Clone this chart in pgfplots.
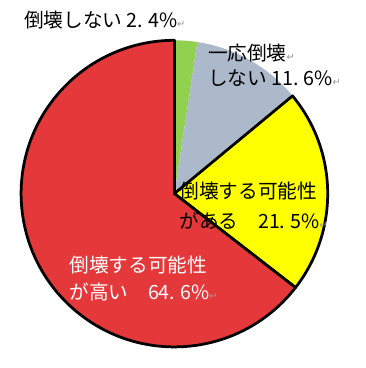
\documentclass[border=0pt]{standalone}
\usepackage{pgfplots}
\pgfplotsset{compat=1.18}
\usepackage{fontspec}
\setmainfont{Noto Sans CJK JP}
\newfontfamily\jp{Noto Sans CJK JP}
\newfontfamily\dejavu{DejaVu Sans}
\definecolor{cGreen}{RGB}{146,208,80}
\definecolor{cGray}{RGB}{172,185,202}
\definecolor{cYellow}{RGB}{255,255,0}
\definecolor{cRed}{RGB}{229,56,58}
\newcommand{\ret}{{\dejavu\fontsize{10}{10}\selectfont\textcolor{gray!80}{↵}}}
\newcommand{\lbl}{\jp\fontsize{20}{24}\selectfont}
\newcommand{\pt}{.\hspace{5pt}}
% pie values (percent)
\def\vA{2.4}\def\vB{11.6}\def\vC{21.5}\def\vD{64.6}
\pgfmathsetmacro{\aA}{90}
\pgfmathsetmacro{\aB}{\aA-3.6*\vA}
\pgfmathsetmacro{\aC}{\aB-3.6*\vB}
\pgfmathsetmacro{\aD}{\aC-3.6*\vC}
\pgfmathsetmacro{\aE}{\aA-360}
\def\cx{174}\def\cy{168}\def\R{156}
\tikzset{lab/.style={font=\lbl, inner sep=0pt, anchor=base west}}
\begin{document}
\begin{tikzpicture}
\begin{axis}[
  scale only axis, width=368pt, height=365pt,
  xmin=0, xmax=368, ymin=0, ymax=365,
  hide axis, clip=false,
]
\path (axis cs:0,0) rectangle (axis cs:368,365);
\fill[cGreen] (axis cs:\cx,\cy) -- +(\aA:\R pt) arc[start angle=\aA, end angle=\aB, radius=\R pt] -- cycle;
\fill[cGray] (axis cs:\cx,\cy) -- +(\aB:\R pt) arc[start angle=\aB, end angle=\aC, radius=\R pt] -- cycle;
\filldraw[fill=cYellow, draw=black, line width=2.8pt, line join=round] (axis cs:\cx,\cy) -- +(\aC:\R pt) arc[start angle=\aC, end angle=\aD, radius=\R pt] -- cycle;
\filldraw[fill=cRed, draw=black, line width=2.8pt, line join=round] (axis cs:\cx,\cy) -- +(\aD:\R pt) arc[start angle=\aD, end angle=\aE, radius=\R pt] -- cycle;
\node[lab] at (axis cs:21,337) {倒壊しない 2\pt 4\%\ret};
\node[lab] at (axis cs:208,303.5) {一応倒壊\ret};
\node[lab] at (axis cs:208,277.5) {しない 11\pt 6\%\ret};
\node[lab] at (axis cs:179,163) {倒壊する可能性};
\node[lab] at (axis cs:179,132.5) {がある　21\pt 5\%\ret};
\node[lab, text=white] at (axis cs:67,88) {倒壊する可能性};
\node[lab, text=white] at (axis cs:67,60) {が高い　64\pt 6\%\ret};
\end{axis}
\end{tikzpicture}
\end{document}
